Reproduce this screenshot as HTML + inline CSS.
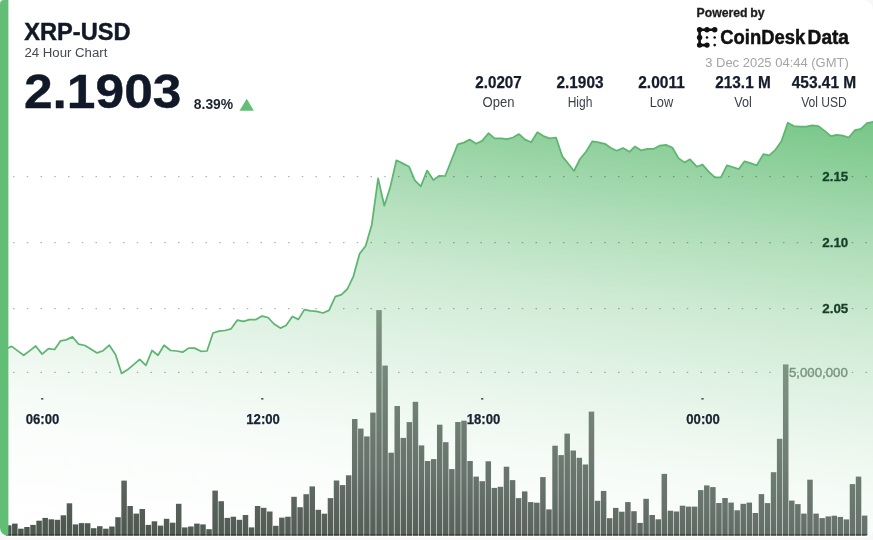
<!DOCTYPE html>
<html><head><meta charset="utf-8"><title>XRP-USD 24 Hour Chart</title>
<style>
html,body{margin:0;padding:0;background:#f7f7f7;}
body{width:873px;height:540px;overflow:hidden;font-family:"Liberation Sans",sans-serif;}
svg{display:block;will-change:transform;font-family:"Liberation Sans",sans-serif;}
</style></head><body>
<svg width="873" height="540" viewBox="0 0 873 540">
<defs>
<linearGradient id="ag" gradientUnits="userSpaceOnUse" x1="860" y1="122" x2="797.2" y2="632.3">
<stop offset="0.0000" stop-color="#5dbb70" stop-opacity="0.835"/>
<stop offset="0.0463" stop-color="#5dbb70" stop-opacity="0.77"/>
<stop offset="0.1506" stop-color="#5dbb70" stop-opacity="0.62"/>
<stop offset="0.2664" stop-color="#5dbb70" stop-opacity="0.46"/>
<stop offset="0.3938" stop-color="#5dbb70" stop-opacity="0.31"/>
<stop offset="0.5212" stop-color="#5dbb70" stop-opacity="0.2"/>
<stop offset="0.6448" stop-color="#5dbb70" stop-opacity="0.11"/>
<stop offset="0.7162" stop-color="#5dbb70" stop-opacity="0.065"/>
<stop offset="0.7973" stop-color="#5dbb70" stop-opacity="0.03"/>
<stop offset="1.0000" stop-color="#5dbb70" stop-opacity="0"/>
</linearGradient>
<linearGradient id="bg" gradientUnits="userSpaceOnUse" x1="860" y1="122" x2="797.2" y2="632.3">
<stop offset="0.3436" stop-color="#88a48b"/>
<stop offset="0.4903" stop-color="#7d9480"/>
<stop offset="0.7085" stop-color="#6c7a70"/>
<stop offset="0.7799" stop-color="#67736c"/>
<stop offset="0.8938" stop-color="#58605a"/>
<stop offset="0.9537" stop-color="#505a53"/>
<stop offset="1.0000" stop-color="#4a554e"/>
</linearGradient>
<clipPath id="card"><path d="M4,0 H863 A10,10 0 0 1 873,10 V527.8 A8,8 0 0 1 865,535.8 H8 A8,8 0 0 1 0,527.8 V4 A4,4 0 0 1 4,0 Z"/></clipPath>
</defs>
<g opacity="0.999">
<path d="M4,0 H863 A10,10 0 0 1 873,10 V529.2 A8,8 0 0 1 865,537.2 H8 A8,8 0 0 1 0,529.2 V4 A4,4 0 0 1 4,0 Z" fill="#ffffff"/>
<g clip-path="url(#card)">
<path d="M5.5,535.8 L5.5,349.0 L11.7,346.4 L17.7,350.9 L23.7,355.3 L29.9,350.6 L35.7,346.0 L42.1,354.1 L48.5,348.6 L54.6,349.5 L60.5,340.9 L66.2,339.9 L72.5,336.9 L78.7,344.2 L85.0,345.5 L91.1,349.2 L97.1,352.9 L103.1,350.7 L109.3,345.2 L115.5,354.6 L121.6,373.4 L127.7,369.6 L133.9,364.4 L139.7,359.3 L145.9,365.3 L152.0,350.5 L158.0,355.3 L164.1,345.3 L170.6,350.5 L176.6,351.0 L182.6,352.2 L188.6,348.1 L194.6,348.1 L201.0,351.3 L207.0,351.0 L213.0,333.0 L219.0,331.2 L225.0,330.5 L231.1,328.8 L237.4,320.1 L243.4,321.4 L249.5,319.6 L256.0,319.6 L262.0,316.1 L268.0,317.5 L274.0,324.0 L280.4,328.1 L286.0,325.5 L292.4,316.5 L298.4,319.4 L304.4,309.6 L310.6,310.8 L316.6,311.3 L323.0,313.0 L329.0,310.4 L335.3,296.7 L341.5,294.6 L347.4,289.0 L353.5,276.1 L359.6,253.7 L365.6,246.0 L371.8,224.7 L378.1,178.4 L384.3,205.8 L390.3,186.9 L396.4,160.3 L402.7,163.4 L409.2,166.8 L414.7,180.1 L420.8,186.4 L427.1,170.6 L433.3,180.1 L439.3,175.8 L445.2,176.0 L451.4,160.2 L457.7,144.4 L463.7,142.6 L469.7,139.6 L476.1,143.8 L482.1,140.9 L488.5,133.2 L494.6,138.4 L501.0,138.4 L507.0,139.2 L513.0,137.5 L519.0,134.1 L525.1,139.6 L531.1,142.3 L537.4,132.3 L543.4,136.1 L549.5,138.4 L556.0,137.5 L562.3,156.4 L568.0,163.3 L574.0,171.0 L580.0,159.0 L586.0,151.7 L592.4,141.3 L598.6,142.3 L604.9,143.8 L610.6,147.8 L616.6,150.7 L623.0,148.1 L629.5,151.8 L635.0,146.4 L641.3,150.4 L647.5,148.8 L653.9,148.8 L659.9,145.6 L665.9,144.9 L672.3,147.5 L678.5,158.1 L684.5,162.4 L690.0,159.3 L696.8,166.7 L702.5,164.6 L708.9,171.9 L714.9,177.4 L720.9,177.4 L726.9,165.3 L732.5,167.0 L738.8,169.1 L744.5,161.3 L750.5,163.2 L756.8,165.3 L763.4,154.1 L769.4,155.3 L775.4,149.8 L781.4,141.2 L787.8,122.7 L793.8,126.1 L800.3,126.6 L806.3,126.6 L812.3,125.3 L818.4,126.1 L824.7,130.9 L830.9,136.1 L836.7,134.9 L842.8,135.7 L848.8,137.5 L855.0,130.1 L861.0,128.9 L867.0,123.2 L874.0,121.8 L874.0,535.8 Z" fill="url(#ag)"/>
<g fill="#000" opacity="0.3"><rect x="13.00" y="176.00" width="1.5" height="1.2"/><rect x="26.75" y="176.00" width="1.5" height="1.2"/><rect x="40.50" y="176.00" width="1.5" height="1.2"/><rect x="54.25" y="176.00" width="1.5" height="1.2"/><rect x="68.00" y="176.00" width="1.5" height="1.2"/><rect x="81.75" y="176.00" width="1.5" height="1.2"/><rect x="95.50" y="176.00" width="1.5" height="1.2"/><rect x="109.25" y="176.00" width="1.5" height="1.2"/><rect x="123.00" y="176.00" width="1.5" height="1.2"/><rect x="136.75" y="176.00" width="1.5" height="1.2"/><rect x="150.50" y="176.00" width="1.5" height="1.2"/><rect x="164.25" y="176.00" width="1.5" height="1.2"/><rect x="178.00" y="176.00" width="1.5" height="1.2"/><rect x="191.75" y="176.00" width="1.5" height="1.2"/><rect x="205.50" y="176.00" width="1.5" height="1.2"/><rect x="219.25" y="176.00" width="1.5" height="1.2"/><rect x="233.00" y="176.00" width="1.5" height="1.2"/><rect x="246.75" y="176.00" width="1.5" height="1.2"/><rect x="260.50" y="176.00" width="1.5" height="1.2"/><rect x="274.25" y="176.00" width="1.5" height="1.2"/><rect x="288.00" y="176.00" width="1.5" height="1.2"/><rect x="301.75" y="176.00" width="1.5" height="1.2"/><rect x="315.50" y="176.00" width="1.5" height="1.2"/><rect x="329.25" y="176.00" width="1.5" height="1.2"/><rect x="343.00" y="176.00" width="1.5" height="1.2"/><rect x="356.75" y="176.00" width="1.5" height="1.2"/><rect x="370.50" y="176.00" width="1.5" height="1.2"/><rect x="384.25" y="176.00" width="1.5" height="1.2"/><rect x="398.00" y="176.00" width="1.5" height="1.2"/><rect x="411.75" y="176.00" width="1.5" height="1.2"/><rect x="425.50" y="176.00" width="1.5" height="1.2"/><rect x="439.25" y="176.00" width="1.5" height="1.2"/><rect x="453.00" y="176.00" width="1.5" height="1.2"/><rect x="466.75" y="176.00" width="1.5" height="1.2"/><rect x="480.50" y="176.00" width="1.5" height="1.2"/><rect x="494.25" y="176.00" width="1.5" height="1.2"/><rect x="508.00" y="176.00" width="1.5" height="1.2"/><rect x="521.75" y="176.00" width="1.5" height="1.2"/><rect x="535.50" y="176.00" width="1.5" height="1.2"/><rect x="549.25" y="176.00" width="1.5" height="1.2"/><rect x="563.00" y="176.00" width="1.5" height="1.2"/><rect x="576.75" y="176.00" width="1.5" height="1.2"/><rect x="590.50" y="176.00" width="1.5" height="1.2"/><rect x="604.25" y="176.00" width="1.5" height="1.2"/><rect x="618.00" y="176.00" width="1.5" height="1.2"/><rect x="631.75" y="176.00" width="1.5" height="1.2"/><rect x="645.50" y="176.00" width="1.5" height="1.2"/><rect x="659.25" y="176.00" width="1.5" height="1.2"/><rect x="673.00" y="176.00" width="1.5" height="1.2"/><rect x="686.75" y="176.00" width="1.5" height="1.2"/><rect x="700.50" y="176.00" width="1.5" height="1.2"/><rect x="714.25" y="176.00" width="1.5" height="1.2"/><rect x="728.00" y="176.00" width="1.5" height="1.2"/><rect x="741.75" y="176.00" width="1.5" height="1.2"/><rect x="755.50" y="176.00" width="1.5" height="1.2"/><rect x="769.25" y="176.00" width="1.5" height="1.2"/><rect x="783.00" y="176.00" width="1.5" height="1.2"/><rect x="796.75" y="176.00" width="1.5" height="1.2"/><rect x="810.50" y="176.00" width="1.5" height="1.2"/><rect x="851.75" y="176.00" width="1.5" height="1.2"/><rect x="865.50" y="176.00" width="1.5" height="1.2"/><rect x="13.00" y="242.00" width="1.5" height="1.2"/><rect x="26.75" y="242.00" width="1.5" height="1.2"/><rect x="40.50" y="242.00" width="1.5" height="1.2"/><rect x="54.25" y="242.00" width="1.5" height="1.2"/><rect x="68.00" y="242.00" width="1.5" height="1.2"/><rect x="81.75" y="242.00" width="1.5" height="1.2"/><rect x="95.50" y="242.00" width="1.5" height="1.2"/><rect x="109.25" y="242.00" width="1.5" height="1.2"/><rect x="123.00" y="242.00" width="1.5" height="1.2"/><rect x="136.75" y="242.00" width="1.5" height="1.2"/><rect x="150.50" y="242.00" width="1.5" height="1.2"/><rect x="164.25" y="242.00" width="1.5" height="1.2"/><rect x="178.00" y="242.00" width="1.5" height="1.2"/><rect x="191.75" y="242.00" width="1.5" height="1.2"/><rect x="205.50" y="242.00" width="1.5" height="1.2"/><rect x="219.25" y="242.00" width="1.5" height="1.2"/><rect x="233.00" y="242.00" width="1.5" height="1.2"/><rect x="246.75" y="242.00" width="1.5" height="1.2"/><rect x="260.50" y="242.00" width="1.5" height="1.2"/><rect x="274.25" y="242.00" width="1.5" height="1.2"/><rect x="288.00" y="242.00" width="1.5" height="1.2"/><rect x="301.75" y="242.00" width="1.5" height="1.2"/><rect x="315.50" y="242.00" width="1.5" height="1.2"/><rect x="329.25" y="242.00" width="1.5" height="1.2"/><rect x="343.00" y="242.00" width="1.5" height="1.2"/><rect x="356.75" y="242.00" width="1.5" height="1.2"/><rect x="370.50" y="242.00" width="1.5" height="1.2"/><rect x="384.25" y="242.00" width="1.5" height="1.2"/><rect x="398.00" y="242.00" width="1.5" height="1.2"/><rect x="411.75" y="242.00" width="1.5" height="1.2"/><rect x="425.50" y="242.00" width="1.5" height="1.2"/><rect x="439.25" y="242.00" width="1.5" height="1.2"/><rect x="453.00" y="242.00" width="1.5" height="1.2"/><rect x="466.75" y="242.00" width="1.5" height="1.2"/><rect x="480.50" y="242.00" width="1.5" height="1.2"/><rect x="494.25" y="242.00" width="1.5" height="1.2"/><rect x="508.00" y="242.00" width="1.5" height="1.2"/><rect x="521.75" y="242.00" width="1.5" height="1.2"/><rect x="535.50" y="242.00" width="1.5" height="1.2"/><rect x="549.25" y="242.00" width="1.5" height="1.2"/><rect x="563.00" y="242.00" width="1.5" height="1.2"/><rect x="576.75" y="242.00" width="1.5" height="1.2"/><rect x="590.50" y="242.00" width="1.5" height="1.2"/><rect x="604.25" y="242.00" width="1.5" height="1.2"/><rect x="618.00" y="242.00" width="1.5" height="1.2"/><rect x="631.75" y="242.00" width="1.5" height="1.2"/><rect x="645.50" y="242.00" width="1.5" height="1.2"/><rect x="659.25" y="242.00" width="1.5" height="1.2"/><rect x="673.00" y="242.00" width="1.5" height="1.2"/><rect x="686.75" y="242.00" width="1.5" height="1.2"/><rect x="700.50" y="242.00" width="1.5" height="1.2"/><rect x="714.25" y="242.00" width="1.5" height="1.2"/><rect x="728.00" y="242.00" width="1.5" height="1.2"/><rect x="741.75" y="242.00" width="1.5" height="1.2"/><rect x="755.50" y="242.00" width="1.5" height="1.2"/><rect x="769.25" y="242.00" width="1.5" height="1.2"/><rect x="783.00" y="242.00" width="1.5" height="1.2"/><rect x="796.75" y="242.00" width="1.5" height="1.2"/><rect x="810.50" y="242.00" width="1.5" height="1.2"/><rect x="851.75" y="242.00" width="1.5" height="1.2"/><rect x="865.50" y="242.00" width="1.5" height="1.2"/><rect x="13.00" y="308.00" width="1.5" height="1.2"/><rect x="26.75" y="308.00" width="1.5" height="1.2"/><rect x="40.50" y="308.00" width="1.5" height="1.2"/><rect x="54.25" y="308.00" width="1.5" height="1.2"/><rect x="68.00" y="308.00" width="1.5" height="1.2"/><rect x="81.75" y="308.00" width="1.5" height="1.2"/><rect x="95.50" y="308.00" width="1.5" height="1.2"/><rect x="109.25" y="308.00" width="1.5" height="1.2"/><rect x="123.00" y="308.00" width="1.5" height="1.2"/><rect x="136.75" y="308.00" width="1.5" height="1.2"/><rect x="150.50" y="308.00" width="1.5" height="1.2"/><rect x="164.25" y="308.00" width="1.5" height="1.2"/><rect x="178.00" y="308.00" width="1.5" height="1.2"/><rect x="191.75" y="308.00" width="1.5" height="1.2"/><rect x="205.50" y="308.00" width="1.5" height="1.2"/><rect x="219.25" y="308.00" width="1.5" height="1.2"/><rect x="233.00" y="308.00" width="1.5" height="1.2"/><rect x="246.75" y="308.00" width="1.5" height="1.2"/><rect x="260.50" y="308.00" width="1.5" height="1.2"/><rect x="274.25" y="308.00" width="1.5" height="1.2"/><rect x="288.00" y="308.00" width="1.5" height="1.2"/><rect x="301.75" y="308.00" width="1.5" height="1.2"/><rect x="315.50" y="308.00" width="1.5" height="1.2"/><rect x="329.25" y="308.00" width="1.5" height="1.2"/><rect x="343.00" y="308.00" width="1.5" height="1.2"/><rect x="356.75" y="308.00" width="1.5" height="1.2"/><rect x="370.50" y="308.00" width="1.5" height="1.2"/><rect x="384.25" y="308.00" width="1.5" height="1.2"/><rect x="398.00" y="308.00" width="1.5" height="1.2"/><rect x="411.75" y="308.00" width="1.5" height="1.2"/><rect x="425.50" y="308.00" width="1.5" height="1.2"/><rect x="439.25" y="308.00" width="1.5" height="1.2"/><rect x="453.00" y="308.00" width="1.5" height="1.2"/><rect x="466.75" y="308.00" width="1.5" height="1.2"/><rect x="480.50" y="308.00" width="1.5" height="1.2"/><rect x="494.25" y="308.00" width="1.5" height="1.2"/><rect x="508.00" y="308.00" width="1.5" height="1.2"/><rect x="521.75" y="308.00" width="1.5" height="1.2"/><rect x="535.50" y="308.00" width="1.5" height="1.2"/><rect x="549.25" y="308.00" width="1.5" height="1.2"/><rect x="563.00" y="308.00" width="1.5" height="1.2"/><rect x="576.75" y="308.00" width="1.5" height="1.2"/><rect x="590.50" y="308.00" width="1.5" height="1.2"/><rect x="604.25" y="308.00" width="1.5" height="1.2"/><rect x="618.00" y="308.00" width="1.5" height="1.2"/><rect x="631.75" y="308.00" width="1.5" height="1.2"/><rect x="645.50" y="308.00" width="1.5" height="1.2"/><rect x="659.25" y="308.00" width="1.5" height="1.2"/><rect x="673.00" y="308.00" width="1.5" height="1.2"/><rect x="686.75" y="308.00" width="1.5" height="1.2"/><rect x="700.50" y="308.00" width="1.5" height="1.2"/><rect x="714.25" y="308.00" width="1.5" height="1.2"/><rect x="728.00" y="308.00" width="1.5" height="1.2"/><rect x="741.75" y="308.00" width="1.5" height="1.2"/><rect x="755.50" y="308.00" width="1.5" height="1.2"/><rect x="769.25" y="308.00" width="1.5" height="1.2"/><rect x="783.00" y="308.00" width="1.5" height="1.2"/><rect x="796.75" y="308.00" width="1.5" height="1.2"/><rect x="810.50" y="308.00" width="1.5" height="1.2"/><rect x="851.75" y="308.00" width="1.5" height="1.2"/><rect x="865.50" y="308.00" width="1.5" height="1.2"/><rect x="13.00" y="371.80" width="1.5" height="1.2"/><rect x="26.75" y="371.80" width="1.5" height="1.2"/><rect x="40.50" y="371.80" width="1.5" height="1.2"/><rect x="54.25" y="371.80" width="1.5" height="1.2"/><rect x="68.00" y="371.80" width="1.5" height="1.2"/><rect x="81.75" y="371.80" width="1.5" height="1.2"/><rect x="95.50" y="371.80" width="1.5" height="1.2"/><rect x="109.25" y="371.80" width="1.5" height="1.2"/><rect x="123.00" y="371.80" width="1.5" height="1.2"/><rect x="136.75" y="371.80" width="1.5" height="1.2"/><rect x="150.50" y="371.80" width="1.5" height="1.2"/><rect x="164.25" y="371.80" width="1.5" height="1.2"/><rect x="178.00" y="371.80" width="1.5" height="1.2"/><rect x="191.75" y="371.80" width="1.5" height="1.2"/><rect x="205.50" y="371.80" width="1.5" height="1.2"/><rect x="219.25" y="371.80" width="1.5" height="1.2"/><rect x="233.00" y="371.80" width="1.5" height="1.2"/><rect x="246.75" y="371.80" width="1.5" height="1.2"/><rect x="260.50" y="371.80" width="1.5" height="1.2"/><rect x="274.25" y="371.80" width="1.5" height="1.2"/><rect x="288.00" y="371.80" width="1.5" height="1.2"/><rect x="301.75" y="371.80" width="1.5" height="1.2"/><rect x="315.50" y="371.80" width="1.5" height="1.2"/><rect x="329.25" y="371.80" width="1.5" height="1.2"/><rect x="343.00" y="371.80" width="1.5" height="1.2"/><rect x="356.75" y="371.80" width="1.5" height="1.2"/><rect x="370.50" y="371.80" width="1.5" height="1.2"/><rect x="384.25" y="371.80" width="1.5" height="1.2"/><rect x="398.00" y="371.80" width="1.5" height="1.2"/><rect x="411.75" y="371.80" width="1.5" height="1.2"/><rect x="425.50" y="371.80" width="1.5" height="1.2"/><rect x="439.25" y="371.80" width="1.5" height="1.2"/><rect x="453.00" y="371.80" width="1.5" height="1.2"/><rect x="466.75" y="371.80" width="1.5" height="1.2"/><rect x="480.50" y="371.80" width="1.5" height="1.2"/><rect x="494.25" y="371.80" width="1.5" height="1.2"/><rect x="508.00" y="371.80" width="1.5" height="1.2"/><rect x="521.75" y="371.80" width="1.5" height="1.2"/><rect x="535.50" y="371.80" width="1.5" height="1.2"/><rect x="549.25" y="371.80" width="1.5" height="1.2"/><rect x="563.00" y="371.80" width="1.5" height="1.2"/><rect x="576.75" y="371.80" width="1.5" height="1.2"/><rect x="590.50" y="371.80" width="1.5" height="1.2"/><rect x="604.25" y="371.80" width="1.5" height="1.2"/><rect x="618.00" y="371.80" width="1.5" height="1.2"/><rect x="631.75" y="371.80" width="1.5" height="1.2"/><rect x="645.50" y="371.80" width="1.5" height="1.2"/><rect x="659.25" y="371.80" width="1.5" height="1.2"/><rect x="673.00" y="371.80" width="1.5" height="1.2"/><rect x="686.75" y="371.80" width="1.5" height="1.2"/><rect x="700.50" y="371.80" width="1.5" height="1.2"/><rect x="714.25" y="371.80" width="1.5" height="1.2"/><rect x="728.00" y="371.80" width="1.5" height="1.2"/><rect x="741.75" y="371.80" width="1.5" height="1.2"/><rect x="755.50" y="371.80" width="1.5" height="1.2"/><rect x="769.25" y="371.80" width="1.5" height="1.2"/><rect x="783.00" y="371.80" width="1.5" height="1.2"/><rect x="796.75" y="371.80" width="1.5" height="1.2"/><rect x="810.50" y="371.80" width="1.5" height="1.2"/><rect x="824.25" y="371.80" width="1.5" height="1.2"/><rect x="838.00" y="371.80" width="1.5" height="1.2"/><rect x="851.75" y="371.80" width="1.5" height="1.2"/><rect x="865.50" y="371.80" width="1.5" height="1.2"/></g>
<polyline points="5.5,349.0 11.7,346.4 17.7,350.9 23.7,355.3 29.9,350.6 35.7,346.0 42.1,354.1 48.5,348.6 54.6,349.5 60.5,340.9 66.2,339.9 72.5,336.9 78.7,344.2 85.0,345.5 91.1,349.2 97.1,352.9 103.1,350.7 109.3,345.2 115.5,354.6 121.6,373.4 127.7,369.6 133.9,364.4 139.7,359.3 145.9,365.3 152.0,350.5 158.0,355.3 164.1,345.3 170.6,350.5 176.6,351.0 182.6,352.2 188.6,348.1 194.6,348.1 201.0,351.3 207.0,351.0 213.0,333.0 219.0,331.2 225.0,330.5 231.1,328.8 237.4,320.1 243.4,321.4 249.5,319.6 256.0,319.6 262.0,316.1 268.0,317.5 274.0,324.0 280.4,328.1 286.0,325.5 292.4,316.5 298.4,319.4 304.4,309.6 310.6,310.8 316.6,311.3 323.0,313.0 329.0,310.4 335.3,296.7 341.5,294.6 347.4,289.0 353.5,276.1 359.6,253.7 365.6,246.0 371.8,224.7 378.1,178.4 384.3,205.8 390.3,186.9 396.4,160.3 402.7,163.4 409.2,166.8 414.7,180.1 420.8,186.4 427.1,170.6 433.3,180.1 439.3,175.8 445.2,176.0 451.4,160.2 457.7,144.4 463.7,142.6 469.7,139.6 476.1,143.8 482.1,140.9 488.5,133.2 494.6,138.4 501.0,138.4 507.0,139.2 513.0,137.5 519.0,134.1 525.1,139.6 531.1,142.3 537.4,132.3 543.4,136.1 549.5,138.4 556.0,137.5 562.3,156.4 568.0,163.3 574.0,171.0 580.0,159.0 586.0,151.7 592.4,141.3 598.6,142.3 604.9,143.8 610.6,147.8 616.6,150.7 623.0,148.1 629.5,151.8 635.0,146.4 641.3,150.4 647.5,148.8 653.9,148.8 659.9,145.6 665.9,144.9 672.3,147.5 678.5,158.1 684.5,162.4 690.0,159.3 696.8,166.7 702.5,164.6 708.9,171.9 714.9,177.4 720.9,177.4 726.9,165.3 732.5,167.0 738.8,169.1 744.5,161.3 750.5,163.2 756.8,165.3 763.4,154.1 769.4,155.3 775.4,149.8 781.4,141.2 787.8,122.7 793.8,126.1 800.3,126.6 806.3,126.6 812.3,125.3 818.4,126.1 824.7,130.9 830.9,136.1 836.7,134.9 842.8,135.7 848.8,137.5 855.0,130.1 861.0,128.9 867.0,123.2 874.0,121.8" fill="none" stroke="#5db570" stroke-width="1.75" stroke-linejoin="round" stroke-linecap="round"/>
<g fill="url(#bg)"><rect x="6.00" y="525.3" width="5.5" height="10.5"/><rect x="12.07" y="523.6" width="5.5" height="12.2"/><rect x="18.14" y="528.7" width="5.5" height="7.1"/><rect x="24.21" y="527.0" width="5.5" height="8.8"/><rect x="30.28" y="524.9" width="5.5" height="10.9"/><rect x="36.35" y="520.7" width="5.5" height="15.1"/><rect x="42.42" y="517.9" width="5.5" height="17.9"/><rect x="48.49" y="519.3" width="5.5" height="16.5"/><rect x="54.56" y="519.8" width="5.5" height="16.0"/><rect x="60.63" y="515.3" width="5.5" height="20.5"/><rect x="66.70" y="503.3" width="5.5" height="32.5"/><rect x="72.77" y="524.4" width="5.5" height="11.4"/><rect x="78.84" y="523.1" width="5.5" height="12.7"/><rect x="84.91" y="523.2" width="5.5" height="12.6"/><rect x="90.98" y="528.2" width="5.5" height="7.6"/><rect x="97.05" y="526.2" width="5.5" height="9.6"/><rect x="103.12" y="528.7" width="5.5" height="7.1"/><rect x="109.19" y="526.5" width="5.5" height="9.3"/><rect x="115.26" y="517.2" width="5.5" height="18.6"/><rect x="121.33" y="480.6" width="5.5" height="55.2"/><rect x="127.40" y="506.0" width="5.5" height="29.8"/><rect x="133.47" y="513.6" width="5.5" height="22.2"/><rect x="139.54" y="509.0" width="5.5" height="26.8"/><rect x="145.61" y="524.9" width="5.5" height="10.9"/><rect x="151.68" y="521.3" width="5.5" height="14.5"/><rect x="157.75" y="525.6" width="5.5" height="10.2"/><rect x="163.82" y="518.8" width="5.5" height="17.0"/><rect x="169.89" y="522.7" width="5.5" height="13.1"/><rect x="175.96" y="503.8" width="5.5" height="32.0"/><rect x="182.03" y="527.4" width="5.5" height="8.4"/><rect x="188.10" y="526.5" width="5.5" height="9.3"/><rect x="194.17" y="523.6" width="5.5" height="12.2"/><rect x="200.24" y="524.4" width="5.5" height="11.4"/><rect x="206.31" y="529.2" width="5.5" height="6.6"/><rect x="212.38" y="490.6" width="5.5" height="45.2"/><rect x="218.45" y="501.2" width="5.5" height="34.6"/><rect x="224.52" y="517.9" width="5.5" height="17.9"/><rect x="230.59" y="516.7" width="5.5" height="19.1"/><rect x="236.66" y="519.8" width="5.5" height="16.0"/><rect x="242.73" y="515.0" width="5.5" height="20.8"/><rect x="248.80" y="527.4" width="5.5" height="8.4"/><rect x="254.87" y="506.0" width="5.5" height="29.8"/><rect x="260.94" y="507.8" width="5.5" height="28.0"/><rect x="267.01" y="511.5" width="5.5" height="24.3"/><rect x="273.08" y="525.8" width="5.5" height="10.0"/><rect x="279.15" y="517.6" width="5.5" height="18.2"/><rect x="285.22" y="516.7" width="5.5" height="19.1"/><rect x="291.29" y="496.8" width="5.5" height="39.0"/><rect x="297.36" y="507.2" width="5.5" height="28.6"/><rect x="303.43" y="494.2" width="5.5" height="41.6"/><rect x="309.50" y="486.4" width="5.5" height="49.4"/><rect x="315.57" y="509.8" width="5.5" height="26.0"/><rect x="321.64" y="513.7" width="5.5" height="22.1"/><rect x="327.71" y="498.1" width="5.5" height="37.7"/><rect x="333.78" y="480.5" width="5.5" height="55.3"/><rect x="339.85" y="485.1" width="5.5" height="50.7"/><rect x="345.92" y="475.3" width="5.5" height="60.5"/><rect x="351.99" y="419.0" width="5.5" height="116.8"/><rect x="358.06" y="428.6" width="5.5" height="107.2"/><rect x="364.13" y="436.4" width="5.5" height="99.4"/><rect x="370.20" y="412.6" width="5.5" height="123.2"/><rect x="376.27" y="310.1" width="5.5" height="225.7"/><rect x="382.34" y="365.6" width="5.5" height="170.2"/><rect x="388.41" y="452.7" width="5.5" height="83.1"/><rect x="394.48" y="406.0" width="5.5" height="129.8"/><rect x="400.55" y="437.9" width="5.5" height="97.9"/><rect x="406.62" y="422.1" width="5.5" height="113.7"/><rect x="412.69" y="401.8" width="5.5" height="134.0"/><rect x="418.76" y="445.4" width="5.5" height="90.4"/><rect x="424.83" y="461.0" width="5.5" height="74.8"/><rect x="430.90" y="459.1" width="5.5" height="76.7"/><rect x="436.97" y="424.7" width="5.5" height="111.1"/><rect x="443.04" y="442.2" width="5.5" height="93.6"/><rect x="449.11" y="469.1" width="5.5" height="66.7"/><rect x="455.18" y="422.0" width="5.5" height="113.8"/><rect x="461.25" y="420.7" width="5.5" height="115.1"/><rect x="467.32" y="461.0" width="5.5" height="74.8"/><rect x="473.39" y="476.6" width="5.5" height="59.2"/><rect x="479.46" y="481.2" width="5.5" height="54.6"/><rect x="485.53" y="461.3" width="5.5" height="74.5"/><rect x="491.60" y="487.9" width="5.5" height="47.9"/><rect x="497.67" y="486.8" width="5.5" height="49.0"/><rect x="503.74" y="466.7" width="5.5" height="69.1"/><rect x="509.81" y="480.1" width="5.5" height="55.7"/><rect x="515.88" y="498.1" width="5.5" height="37.7"/><rect x="521.95" y="491.4" width="5.5" height="44.4"/><rect x="528.02" y="502.1" width="5.5" height="33.7"/><rect x="534.09" y="502.7" width="5.5" height="33.1"/><rect x="540.16" y="477.1" width="5.5" height="58.7"/><rect x="546.23" y="509.4" width="5.5" height="26.4"/><rect x="552.30" y="445.7" width="5.5" height="90.1"/><rect x="558.37" y="455.1" width="5.5" height="80.7"/><rect x="564.44" y="433.6" width="5.5" height="102.2"/><rect x="570.51" y="450.5" width="5.5" height="85.3"/><rect x="576.58" y="457.8" width="5.5" height="78.0"/><rect x="582.65" y="464.5" width="5.5" height="71.3"/><rect x="588.72" y="411.6" width="5.5" height="124.2"/><rect x="594.79" y="500.8" width="5.5" height="35.0"/><rect x="600.86" y="490.9" width="5.5" height="44.9"/><rect x="606.93" y="518.2" width="5.5" height="17.6"/><rect x="613.00" y="507.9" width="5.5" height="27.9"/><rect x="619.07" y="511.7" width="5.5" height="24.1"/><rect x="625.14" y="502.1" width="5.5" height="33.7"/><rect x="631.21" y="511.2" width="5.5" height="24.6"/><rect x="637.28" y="522.9" width="5.5" height="12.9"/><rect x="643.35" y="498.8" width="5.5" height="37.0"/><rect x="649.42" y="515.0" width="5.5" height="20.8"/><rect x="655.49" y="519.3" width="5.5" height="16.5"/><rect x="661.56" y="473.9" width="5.5" height="61.9"/><rect x="667.63" y="510.7" width="5.5" height="25.1"/><rect x="673.70" y="511.5" width="5.5" height="24.3"/><rect x="679.77" y="505.7" width="5.5" height="30.1"/><rect x="685.84" y="506.6" width="5.5" height="29.2"/><rect x="691.91" y="506.6" width="5.5" height="29.2"/><rect x="697.98" y="490.1" width="5.5" height="45.7"/><rect x="704.05" y="485.4" width="5.5" height="50.4"/><rect x="710.12" y="487.1" width="5.5" height="48.7"/><rect x="716.19" y="503.0" width="5.5" height="32.8"/><rect x="722.26" y="498.0" width="5.5" height="37.8"/><rect x="728.33" y="502.6" width="5.5" height="33.2"/><rect x="734.40" y="510.3" width="5.5" height="25.5"/><rect x="740.47" y="503.8" width="5.5" height="32.0"/><rect x="746.54" y="502.6" width="5.5" height="33.2"/><rect x="752.61" y="513.0" width="5.5" height="22.8"/><rect x="758.68" y="494.1" width="5.5" height="41.7"/><rect x="764.75" y="503.1" width="5.5" height="32.7"/><rect x="770.82" y="472.2" width="5.5" height="63.6"/><rect x="776.89" y="438.8" width="5.5" height="97.0"/><rect x="782.96" y="364.4" width="5.5" height="171.4"/><rect x="789.03" y="500.6" width="5.5" height="35.2"/><rect x="795.10" y="504.1" width="5.5" height="31.7"/><rect x="801.17" y="513.6" width="5.5" height="22.2"/><rect x="807.24" y="479.7" width="5.5" height="56.1"/><rect x="813.31" y="513.6" width="5.5" height="22.2"/><rect x="819.38" y="518.1" width="5.5" height="17.7"/><rect x="825.45" y="516.4" width="5.5" height="19.4"/><rect x="831.52" y="515.7" width="5.5" height="20.1"/><rect x="837.59" y="516.9" width="5.5" height="18.9"/><rect x="843.66" y="519.4" width="5.5" height="16.4"/><rect x="849.73" y="484.1" width="5.5" height="51.7"/><rect x="855.80" y="476.6" width="5.5" height="59.2"/><rect x="861.87" y="515.6" width="5.5" height="20.2"/></g>
<g fill="#2b302d" opacity="0.75"><rect x="6.00" y="534.2" width="5.5" height="1.6"/><rect x="12.07" y="534.2" width="5.5" height="1.6"/><rect x="18.14" y="534.2" width="5.5" height="1.6"/><rect x="24.21" y="534.2" width="5.5" height="1.6"/><rect x="30.28" y="534.2" width="5.5" height="1.6"/><rect x="36.35" y="534.2" width="5.5" height="1.6"/><rect x="42.42" y="534.2" width="5.5" height="1.6"/><rect x="48.49" y="534.2" width="5.5" height="1.6"/><rect x="54.56" y="534.2" width="5.5" height="1.6"/><rect x="60.63" y="534.2" width="5.5" height="1.6"/><rect x="66.70" y="534.2" width="5.5" height="1.6"/><rect x="72.77" y="534.2" width="5.5" height="1.6"/><rect x="78.84" y="534.2" width="5.5" height="1.6"/><rect x="84.91" y="534.2" width="5.5" height="1.6"/><rect x="90.98" y="534.2" width="5.5" height="1.6"/><rect x="97.05" y="534.2" width="5.5" height="1.6"/><rect x="103.12" y="534.2" width="5.5" height="1.6"/><rect x="109.19" y="534.2" width="5.5" height="1.6"/><rect x="115.26" y="534.2" width="5.5" height="1.6"/><rect x="121.33" y="534.2" width="5.5" height="1.6"/><rect x="127.40" y="534.2" width="5.5" height="1.6"/><rect x="133.47" y="534.2" width="5.5" height="1.6"/><rect x="139.54" y="534.2" width="5.5" height="1.6"/><rect x="145.61" y="534.2" width="5.5" height="1.6"/><rect x="151.68" y="534.2" width="5.5" height="1.6"/><rect x="157.75" y="534.2" width="5.5" height="1.6"/><rect x="163.82" y="534.2" width="5.5" height="1.6"/><rect x="169.89" y="534.2" width="5.5" height="1.6"/><rect x="175.96" y="534.2" width="5.5" height="1.6"/><rect x="182.03" y="534.2" width="5.5" height="1.6"/><rect x="188.10" y="534.2" width="5.5" height="1.6"/><rect x="194.17" y="534.2" width="5.5" height="1.6"/><rect x="200.24" y="534.2" width="5.5" height="1.6"/><rect x="206.31" y="534.2" width="5.5" height="1.6"/><rect x="212.38" y="534.2" width="5.5" height="1.6"/><rect x="218.45" y="534.2" width="5.5" height="1.6"/><rect x="224.52" y="534.2" width="5.5" height="1.6"/><rect x="230.59" y="534.2" width="5.5" height="1.6"/><rect x="236.66" y="534.2" width="5.5" height="1.6"/><rect x="242.73" y="534.2" width="5.5" height="1.6"/><rect x="248.80" y="534.2" width="5.5" height="1.6"/><rect x="254.87" y="534.2" width="5.5" height="1.6"/><rect x="260.94" y="534.2" width="5.5" height="1.6"/><rect x="267.01" y="534.2" width="5.5" height="1.6"/><rect x="273.08" y="534.2" width="5.5" height="1.6"/><rect x="279.15" y="534.2" width="5.5" height="1.6"/><rect x="285.22" y="534.2" width="5.5" height="1.6"/><rect x="291.29" y="534.2" width="5.5" height="1.6"/><rect x="297.36" y="534.2" width="5.5" height="1.6"/><rect x="303.43" y="534.2" width="5.5" height="1.6"/><rect x="309.50" y="534.2" width="5.5" height="1.6"/><rect x="315.57" y="534.2" width="5.5" height="1.6"/><rect x="321.64" y="534.2" width="5.5" height="1.6"/><rect x="327.71" y="534.2" width="5.5" height="1.6"/><rect x="333.78" y="534.2" width="5.5" height="1.6"/><rect x="339.85" y="534.2" width="5.5" height="1.6"/><rect x="345.92" y="534.2" width="5.5" height="1.6"/><rect x="351.99" y="534.2" width="5.5" height="1.6"/><rect x="358.06" y="534.2" width="5.5" height="1.6"/><rect x="364.13" y="534.2" width="5.5" height="1.6"/><rect x="370.20" y="534.2" width="5.5" height="1.6"/><rect x="376.27" y="534.2" width="5.5" height="1.6"/><rect x="382.34" y="534.2" width="5.5" height="1.6"/><rect x="388.41" y="534.2" width="5.5" height="1.6"/><rect x="394.48" y="534.2" width="5.5" height="1.6"/><rect x="400.55" y="534.2" width="5.5" height="1.6"/><rect x="406.62" y="534.2" width="5.5" height="1.6"/><rect x="412.69" y="534.2" width="5.5" height="1.6"/><rect x="418.76" y="534.2" width="5.5" height="1.6"/><rect x="424.83" y="534.2" width="5.5" height="1.6"/><rect x="430.90" y="534.2" width="5.5" height="1.6"/><rect x="436.97" y="534.2" width="5.5" height="1.6"/><rect x="443.04" y="534.2" width="5.5" height="1.6"/><rect x="449.11" y="534.2" width="5.5" height="1.6"/><rect x="455.18" y="534.2" width="5.5" height="1.6"/><rect x="461.25" y="534.2" width="5.5" height="1.6"/><rect x="467.32" y="534.2" width="5.5" height="1.6"/><rect x="473.39" y="534.2" width="5.5" height="1.6"/><rect x="479.46" y="534.2" width="5.5" height="1.6"/><rect x="485.53" y="534.2" width="5.5" height="1.6"/><rect x="491.60" y="534.2" width="5.5" height="1.6"/><rect x="497.67" y="534.2" width="5.5" height="1.6"/><rect x="503.74" y="534.2" width="5.5" height="1.6"/><rect x="509.81" y="534.2" width="5.5" height="1.6"/><rect x="515.88" y="534.2" width="5.5" height="1.6"/><rect x="521.95" y="534.2" width="5.5" height="1.6"/><rect x="528.02" y="534.2" width="5.5" height="1.6"/><rect x="534.09" y="534.2" width="5.5" height="1.6"/><rect x="540.16" y="534.2" width="5.5" height="1.6"/><rect x="546.23" y="534.2" width="5.5" height="1.6"/><rect x="552.30" y="534.2" width="5.5" height="1.6"/><rect x="558.37" y="534.2" width="5.5" height="1.6"/><rect x="564.44" y="534.2" width="5.5" height="1.6"/><rect x="570.51" y="534.2" width="5.5" height="1.6"/><rect x="576.58" y="534.2" width="5.5" height="1.6"/><rect x="582.65" y="534.2" width="5.5" height="1.6"/><rect x="588.72" y="534.2" width="5.5" height="1.6"/><rect x="594.79" y="534.2" width="5.5" height="1.6"/><rect x="600.86" y="534.2" width="5.5" height="1.6"/><rect x="606.93" y="534.2" width="5.5" height="1.6"/><rect x="613.00" y="534.2" width="5.5" height="1.6"/><rect x="619.07" y="534.2" width="5.5" height="1.6"/><rect x="625.14" y="534.2" width="5.5" height="1.6"/><rect x="631.21" y="534.2" width="5.5" height="1.6"/><rect x="637.28" y="534.2" width="5.5" height="1.6"/><rect x="643.35" y="534.2" width="5.5" height="1.6"/><rect x="649.42" y="534.2" width="5.5" height="1.6"/><rect x="655.49" y="534.2" width="5.5" height="1.6"/><rect x="661.56" y="534.2" width="5.5" height="1.6"/><rect x="667.63" y="534.2" width="5.5" height="1.6"/><rect x="673.70" y="534.2" width="5.5" height="1.6"/><rect x="679.77" y="534.2" width="5.5" height="1.6"/><rect x="685.84" y="534.2" width="5.5" height="1.6"/><rect x="691.91" y="534.2" width="5.5" height="1.6"/><rect x="697.98" y="534.2" width="5.5" height="1.6"/><rect x="704.05" y="534.2" width="5.5" height="1.6"/><rect x="710.12" y="534.2" width="5.5" height="1.6"/><rect x="716.19" y="534.2" width="5.5" height="1.6"/><rect x="722.26" y="534.2" width="5.5" height="1.6"/><rect x="728.33" y="534.2" width="5.5" height="1.6"/><rect x="734.40" y="534.2" width="5.5" height="1.6"/><rect x="740.47" y="534.2" width="5.5" height="1.6"/><rect x="746.54" y="534.2" width="5.5" height="1.6"/><rect x="752.61" y="534.2" width="5.5" height="1.6"/><rect x="758.68" y="534.2" width="5.5" height="1.6"/><rect x="764.75" y="534.2" width="5.5" height="1.6"/><rect x="770.82" y="534.2" width="5.5" height="1.6"/><rect x="776.89" y="534.2" width="5.5" height="1.6"/><rect x="782.96" y="534.2" width="5.5" height="1.6"/><rect x="789.03" y="534.2" width="5.5" height="1.6"/><rect x="795.10" y="534.2" width="5.5" height="1.6"/><rect x="801.17" y="534.2" width="5.5" height="1.6"/><rect x="807.24" y="534.2" width="5.5" height="1.6"/><rect x="813.31" y="534.2" width="5.5" height="1.6"/><rect x="819.38" y="534.2" width="5.5" height="1.6"/><rect x="825.45" y="534.2" width="5.5" height="1.6"/><rect x="831.52" y="534.2" width="5.5" height="1.6"/><rect x="837.59" y="534.2" width="5.5" height="1.6"/><rect x="843.66" y="534.2" width="5.5" height="1.6"/><rect x="849.73" y="534.2" width="5.5" height="1.6"/><rect x="855.80" y="534.2" width="5.5" height="1.6"/><rect x="861.87" y="534.2" width="5.5" height="1.6"/></g>
<rect x="0" y="0" width="8.4" height="540" fill="#62bd76"/>
</g>
<rect x="41.1" y="398.0" width="2.2" height="1.6" fill="#4a4d55"/><rect x="261.2" y="398.0" width="2.2" height="1.6" fill="#4a4d55"/><rect x="481.1" y="398.0" width="2.2" height="1.6" fill="#4a4d55"/><rect x="701.4" y="398.0" width="2.2" height="1.6" fill="#4a4d55"/>
<text x="42.5" y="424.4" text-anchor="middle" font-weight="700" font-size="13.9" fill="#1c2333" stroke="#1c2333" stroke-width="0.25" textLength="33.6" lengthAdjust="spacingAndGlyphs">06:00</text><text x="263.1" y="424.4" text-anchor="middle" font-weight="700" font-size="13.9" fill="#1c2333" stroke="#1c2333" stroke-width="0.25" textLength="33.6" lengthAdjust="spacingAndGlyphs">12:00</text><text x="483.5" y="424.4" text-anchor="middle" font-weight="700" font-size="13.9" fill="#1c2333" stroke="#1c2333" stroke-width="0.25" textLength="33.6" lengthAdjust="spacingAndGlyphs">18:00</text><text x="703.1" y="424.4" text-anchor="middle" font-weight="700" font-size="13.9" fill="#1c2333" stroke="#1c2333" stroke-width="0.25" textLength="33.6" lengthAdjust="spacingAndGlyphs">00:00</text>
<text x="822.3" y="181.2" font-weight="700" font-size="13.4" fill="#17402a" stroke="#17402a" stroke-width="0.3" textLength="26" lengthAdjust="spacingAndGlyphs">2.15</text><text x="822.3" y="247.2" font-weight="700" font-size="13.4" fill="#17402a" stroke="#17402a" stroke-width="0.3" textLength="26" lengthAdjust="spacingAndGlyphs">2.10</text><text x="822.3" y="313.2" font-weight="700" font-size="13.4" fill="#17402a" stroke="#17402a" stroke-width="0.3" textLength="26" lengthAdjust="spacingAndGlyphs">2.05</text>
<text x="789" y="376.7" font-weight="400" font-size="12.8" fill="#7a9480" stroke="#7a9480" stroke-width="0.4" textLength="58.8" lengthAdjust="spacingAndGlyphs">5,000,000</text>
<text x="24.3" y="40.3" font-weight="700" font-size="23.9" fill="#111827" stroke="#111827" stroke-width="0.45" textLength="106.3" lengthAdjust="spacingAndGlyphs">XRP-USD</text>
<text x="24.4" y="56.5" font-size="12" fill="#454a54" textLength="83" lengthAdjust="spacingAndGlyphs">24 Hour Chart</text>
<text x="23.9" y="108.3" font-weight="700" font-size="48.8" fill="#111827" stroke="#111827" stroke-width="0.4" textLength="157.6" lengthAdjust="spacingAndGlyphs">2.1903</text>
<text x="193.8" y="108.7" font-weight="700" font-size="14.4" fill="#1b2230" textLength="39.4" lengthAdjust="spacingAndGlyphs">8.39%</text>
<path d="M246.7,98.7 L253.9,110.7 L239.5,110.7 Z" fill="#62bf75"/>
<text x="498.5" y="88.3" text-anchor="middle" font-weight="700" font-size="15.8" fill="#151c2c" stroke="#151c2c" stroke-width="0.25" textLength="46.5" lengthAdjust="spacingAndGlyphs">2.0207</text><text x="498.5" y="107" text-anchor="middle" font-size="14" fill="#3a3f48" textLength="31.9" lengthAdjust="spacingAndGlyphs">Open</text><text x="580" y="88.3" text-anchor="middle" font-weight="700" font-size="15.8" fill="#151c2c" stroke="#151c2c" stroke-width="0.25" textLength="47.0" lengthAdjust="spacingAndGlyphs">2.1903</text><text x="580" y="107" text-anchor="middle" font-size="14" fill="#3a3f48" textLength="24.7" lengthAdjust="spacingAndGlyphs">High</text><text x="661.5" y="88.3" text-anchor="middle" font-weight="700" font-size="15.8" fill="#151c2c" stroke="#151c2c" stroke-width="0.25" textLength="46.5" lengthAdjust="spacingAndGlyphs">2.0011</text><text x="661.5" y="107" text-anchor="middle" font-size="14" fill="#3a3f48" textLength="23.5" lengthAdjust="spacingAndGlyphs">Low</text><text x="743" y="88.3" text-anchor="middle" font-weight="700" font-size="15.8" fill="#151c2c" stroke="#151c2c" stroke-width="0.25" textLength="55.4" lengthAdjust="spacingAndGlyphs">213.1 M</text><text x="743" y="107" text-anchor="middle" font-size="14" fill="#3a3f48" textLength="17.6" lengthAdjust="spacingAndGlyphs">Vol</text><text x="824" y="88.3" text-anchor="middle" font-weight="700" font-size="15.8" fill="#151c2c" stroke="#151c2c" stroke-width="0.25" textLength="64.5" lengthAdjust="spacingAndGlyphs">453.41 M</text><text x="824" y="107" text-anchor="middle" font-size="14" fill="#3a3f48" textLength="45.7" lengthAdjust="spacingAndGlyphs">Vol USD</text>
<text x="696.6" y="16.6" font-weight="700" font-size="12.2" fill="#1d1d1d" stroke="#1d1d1d" stroke-width="0.3" textLength="51" lengthAdjust="spacingAndGlyphs">Powered</text>
<text x="750.2" y="16.6" font-weight="700" font-size="12.2" fill="#1d1d1d" stroke="#1d1d1d" stroke-width="0.3" textLength="14.4" lengthAdjust="spacingAndGlyphs">by</text>
<g fill="#111" stroke="#111">
<path d="M714.7,29.8 H699.6 V45.1 H707" fill="none" stroke-width="2.6" stroke-linecap="round" stroke-linejoin="round"/>
<circle cx="699.6" cy="29.8" r="2.7" stroke="none"/><circle cx="707" cy="29.8" r="2.7" stroke="none"/><circle cx="714.7" cy="29.8" r="2.7" stroke="none"/>
<circle cx="699.6" cy="37.5" r="2.7" stroke="none"/><circle cx="699.6" cy="45.1" r="2.7" stroke="none"/><circle cx="707" cy="45.1" r="2.7" stroke="none"/>
<circle cx="707" cy="37.5" r="1.3" stroke="none"/><circle cx="714.7" cy="37.5" r="1.3" stroke="none"/><circle cx="714.7" cy="45.1" r="1.3" stroke="none"/>
</g>
<text x="720.3" y="43.7" font-weight="700" font-size="20.3" fill="#111" stroke="#111" stroke-width="0.5" textLength="85" lengthAdjust="spacingAndGlyphs">CoinDesk</text>
<text x="807.6" y="43.7" font-weight="700" font-size="20.3" fill="#111" stroke="#111" stroke-width="0.5" textLength="41.4" lengthAdjust="spacingAndGlyphs">Data</text>
<text x="705.2" y="67" font-size="13.7" fill="#a4a4a4" textLength="143.6" lengthAdjust="spacingAndGlyphs">3 Dec 2025 04:44 (GMT)</text>
</g>
</svg>
</body></html>
